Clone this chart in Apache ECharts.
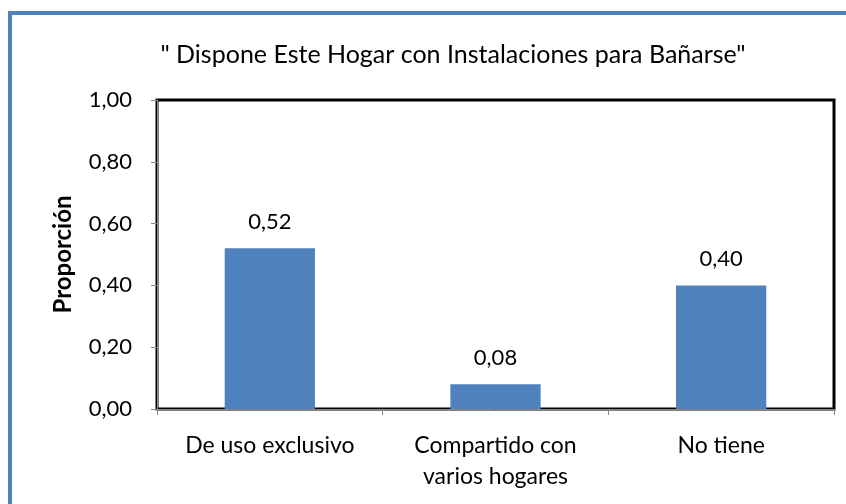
<!DOCTYPE html>
<html>
<head>
<meta charset="utf-8">
<script src="https://cdn.jsdelivr.net/npm/echarts@6/dist/echarts.min.js"></script>
<style>
  html, body { margin: 0; padding: 0; background: #fff; }
  #main { width: 846px; height: 504px; }
</style>
</head>
<body>
<div id="main"></div>
<script>
const categories = ['De uso exclusivo', 'Compartido con\nvarios hogares', 'No tiene'];
const values = [0.52, 0.08, 0.40];
const yTicks = [0, 0.2, 0.4, 0.6, 0.8, 1.0];

const font = 'Lato, "Open Sans", sans-serif';
let myChart = echarts.init(document.getElementById('main'));

option = {
    animation: false,
    backgroundColor: '#fff',
    title: {
        text: '" Dispone Este Hogar con Instalaciones para Bañarse"',
        left: 448,
        top: 37,
        textAlign: 'center',
        textStyle: { fontFamily: font, fontSize: 25, fontWeight: 'normal', color: '#000' }
    },
    graphic: [{
        type: 'rect',
        shape: { x: 10, y: 13, width: 900, height: 600 },
        style: { fill: 'none', stroke: '#4F81BD', lineWidth: 4 },
        silent: true
    }],
    grid: {
        left: 157, top: 100, right: 12, bottom: 95,
        show: true, borderColor: '#000', borderWidth: 3
    },
    xAxis: {
        type: 'category',
        data: categories,
        axisLine: { lineStyle: { color: '#888', width: 1 } },
        axisTick: { show: true, length: 6, lineStyle: { color: '#888' } },
        axisLabel: { fontFamily: font, fontSize: 23, color: '#000', margin: 21, lineHeight: 31 }
    },
    yAxis: {
        type: 'value',
        min: 0, max: 1, interval: 0.2,
        name: 'Proporción',
        nameLocation: 'middle',
        nameGap: 82,
        nameTextStyle: { fontFamily: font, fontSize: 24, fontWeight: 'bold', color: '#000' },
        axisLine: { show: true, lineStyle: { color: '#888', width: 1 } },
        axisTick: { show: true, length: 6, lineStyle: { color: '#888' } },
        splitLine: { show: false },
        axisLabel: {
            fontFamily: font, fontSize: 22, color: '#000', margin: 25,
            formatter: function (v) { return yTicks.includes(Math.round(v * 10) / 10) ? v.toFixed(2).replace('.', ',') : ''; }
        }
    },
    series: [{
        type: 'bar',
        data: values,
        barWidth: '40%',
        itemStyle: { color: '#4F81BD' },
        label: {
            show: true, position: 'top', distance: 15,
            fontFamily: font, fontSize: 22, color: '#000',
            formatter: function (p) { return p.value.toFixed(2).replace('.', ','); }
        }
    }]
};

myChart.setOption(option);
</script>
</body>
</html>
